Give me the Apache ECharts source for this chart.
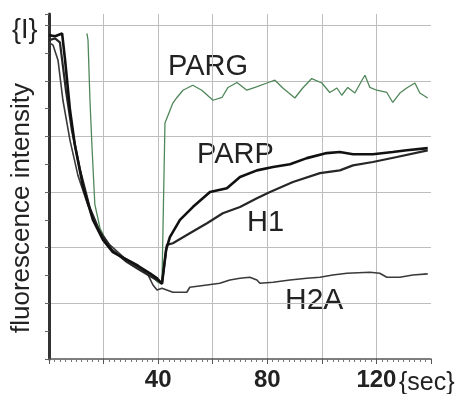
<!DOCTYPE html>
<html>
<head>
<meta charset="utf-8">
<script src="https://cdn.jsdelivr.net/npm/echarts@6/dist/echarts.min.js"></script>
<style>
  html, body { margin: 0; padding: 0; background: #fff; }
  #chart { width: 463px; height: 394px; }
</style>
</head>
<body>
<div id="chart"></div>
<script>
// time (sec) and intensity values
const pargT = [13.9, 14.3, 15.0, 15.8, 16.8, 18.7, 22.3, 27.8, 33.3, 37.0, 39.9, 41.4, 42.5, 45.4, 46.9, 49.1, 52.7, 56.0, 60.1, 63.4, 65.6, 68.9, 72.5, 75.5, 79.9, 82.8, 85.7, 90.1, 93.0, 96.3, 100.0, 102.9, 105.5, 107.3, 109.5, 112.1, 114.7, 115.8, 117.6, 120.1, 123.8, 126.0, 128.6, 131.1, 134.1, 135.9, 138.8];
const pargI = [5.85, 5.73, 4.67, 3.77, 2.78, 2.35, 1.99, 1.81, 1.63, 1.51, 1.38, 1.35, 4.24, 4.60, 4.70, 4.83, 4.92, 4.83, 4.65, 4.70, 4.88, 4.97, 4.83, 4.88, 4.96, 5.01, 4.87, 4.69, 4.87, 5.04, 4.96, 4.79, 4.87, 4.74, 4.88, 4.78, 5.01, 5.10, 4.88, 4.83, 4.79, 4.61, 4.78, 4.87, 4.96, 4.78, 4.69];

const parpT = [0, 2.2, 4.8, 5.9, 7.7, 9.5, 12.5, 16.1, 19.8, 23.4, 28.6, 33.3, 37.0, 39.6, 41.4, 42.9, 44.3, 48.0, 52.7, 59.0, 65.2, 70.0, 76.2, 82.1, 88.3, 94.5, 101.8, 106.6, 111.4, 118.7, 126.0, 131.1, 138.8];
const parpI = [5.82, 5.80, 5.85, 5.37, 4.47, 3.84, 3.09, 2.50, 2.14, 1.92, 1.78, 1.65, 1.54, 1.45, 1.35, 1.96, 2.19, 2.50, 2.73, 3.00, 3.07, 3.27, 3.39, 3.45, 3.50, 3.61, 3.70, 3.72, 3.68, 3.68, 3.72, 3.75, 3.79];

const h1T = [0, 2.2, 4.0, 6.2, 8.4, 11.4, 15.0, 18.7, 23.1, 28.6, 33.3, 37.0, 39.6, 41.4, 43.2, 45.4, 51.6, 57.9, 63.7, 70.0, 76.2, 81.0, 89.4, 99.3, 106.6, 111.4, 118.7, 127.5, 138.8];
const h1I = [5.73, 5.76, 5.69, 4.83, 4.11, 3.39, 2.71, 2.28, 1.96, 1.74, 1.60, 1.49, 1.42, 1.36, 2.05, 2.08, 2.26, 2.44, 2.62, 2.73, 2.89, 3.00, 3.18, 3.34, 3.39, 3.48, 3.54, 3.63, 3.75];

const h2aT = [0, 1.5, 3.3, 5.1, 7.7, 10.6, 14.3, 17.9, 22.3, 27.8, 32.6, 36.3, 38.1, 39.6, 41.4, 45.4, 50.5, 51.6, 57.9, 62.6, 66.3, 70.0, 73.6, 76.2, 77.3, 82.1, 88.3, 94.5, 99.3, 104.0, 109.2, 117.6, 121.2, 123.8, 128.6, 133.3, 138.8];
const h2aI = [5.69, 5.64, 5.37, 4.65, 3.93, 3.30, 2.76, 2.35, 2.05, 1.81, 1.69, 1.51, 1.33, 1.24, 1.27, 1.20, 1.20, 1.29, 1.33, 1.36, 1.42, 1.45, 1.47, 1.42, 1.36, 1.38, 1.42, 1.45, 1.47, 1.51, 1.54, 1.56, 1.54, 1.47, 1.47, 1.51, 1.53];

const xLabels = [40, 80, 120];

function zip(t, v) {
  return t.map((x, i) => [x, v[i]]);
}

function lineSeries(name, t, v, color, width) {
  return {
    name: name,
    type: 'line',
    data: zip(t, v),
    symbol: 'none',
    smooth: false,
    lineStyle: { color: color, width: width },
    silent: true
  };
}

const chart = echarts.init(document.getElementById('chart'));
const font = '"Liberation Sans", Arial, sans-serif';

chart.setOption({
  animation: false,
  backgroundColor: '#fff',
  grid: { left: 49, right: 32, top: 14, bottom: 35 },
  xAxis: {
    type: 'value',
    min: 0,
    max: 140,
    interval: 20,
    axisLine: { show: true, lineStyle: { color: '#555', width: 1.5 } },
    axisTick: { show: true, length: 5, lineStyle: { color: '#555' } },
    minorTick: { show: true, splitNumber: 10, length: 3, lineStyle: { color: '#777' } },
    splitLine: { show: true, showMinLine: false, showMaxLine: false, lineStyle: { color: '#bdbdbd', width: 1 } },
    axisLabel: {
      margin: 9,
      fontFamily: font,
      fontSize: 24,
      fontWeight: 'bold',
      color: '#222',
      formatter: v => xLabels.includes(v) ? String(v) : ''
    }
  },
  yAxis: {
    type: 'value',
    min: 0,
    max: 6.2,
    interval: 1,
    axisLine: { show: true, lineStyle: { color: '#333', width: 3 } },
    axisTick: { show: true, length: 4, lineStyle: { color: '#666' } },
    minorTick: { show: true, splitNumber: 2, length: 4, lineStyle: { color: '#666' } },
    splitLine: { show: true, showMinLine: false, showMaxLine: false, lineStyle: { color: '#bdbdbd', width: 1 } },
    axisLabel: { show: false }
  },
  series: [
    lineSeries('PARG', pargT, pargI, '#4f8759', 1.3),
    lineSeries('H2A', h2aT, h2aI, '#3a3a3a', 1.6),
    lineSeries('H1', h1T, h1I, '#262626', 2.2),
    lineSeries('PARP', parpT, parpI, '#111', 2.6)
  ],
  graphic: [
    { type: 'text', x: 22, y: 208, rotation: Math.PI / 2,
      style: { text: 'fluorescence intensity', font: '26px ' + font, fill: '#222', align: 'center', verticalAlign: 'middle' } },
    { type: 'text', x: 12, y: 31,
      style: { text: '{I}', font: '27px ' + font, fill: '#222', align: 'left', verticalAlign: 'middle' } },
    { type: 'text', x: 399, y: 383,
      style: { text: '{sec}', font: '25px ' + font, fill: '#222', align: 'left', verticalAlign: 'middle' } },
    { type: 'text', x: 168, y: 66.5,
      style: { text: 'PARG', font: '29px ' + font, fill: '#222', align: 'left', verticalAlign: 'middle' } },
    { type: 'text', x: 197, y: 154.5,
      style: { text: 'PARP', font: '29px ' + font, fill: '#222', align: 'left', verticalAlign: 'middle' } },
    { type: 'text', x: 247, y: 222.5,
      style: { text: 'H1', font: '29px ' + font, fill: '#222', align: 'left', verticalAlign: 'middle' } },
    { type: 'text', x: 285, y: 300.5,
      style: { text: 'H2A', font: '30px ' + font, fill: '#222', align: 'left', verticalAlign: 'middle' } }
  ]
});
</script>
</body>
</html>
